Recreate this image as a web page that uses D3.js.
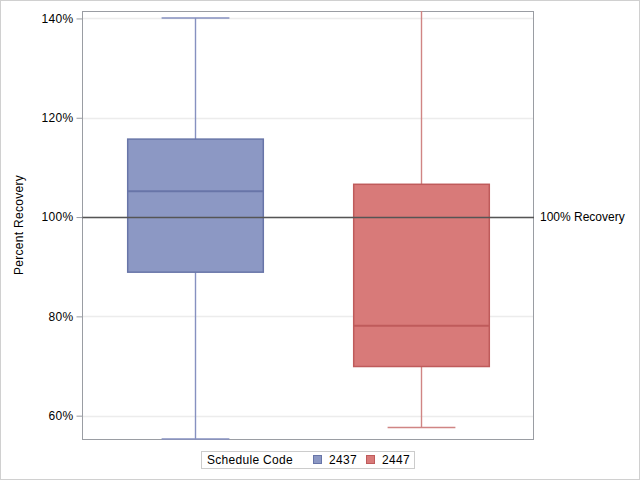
<!DOCTYPE html>
<html><head><meta charset="utf-8">
<script src="https://cdn.jsdelivr.net/npm/d3@7"></script>
<style>body{margin:0;background:#fff}svg{display:block;font-family:"Liberation Sans",Arial,sans-serif}</style>
</head><body>
<script>
const categories = ["2437", "2447"];
const q1Values = [88.9, 69.9];
const medianValues = [105.2, 78.1];
const q3Values = [115.7, 106.6];
const minValues = [55.3, 57.6];
const maxValues = [140.1, 146];
const yTicks = [60, 80, 100, 120, 140];
const fills = ["#8C98C4", "#D87A79"];
const strokes = ["#6875A8", "#BF5B5B"];
const whiskerColors = ["#8691C0", "#D08584"];
const refValue = 100;
const refLabel = "100% Recovery";
const legendTitle = "Schedule Code";

const W = 640, H = 480;
const m = {l: 82, r: 106, t: 11, b: 41};
const svg = d3.select("body").append("svg").attr("width", W).attr("height", H);
svg.append("rect").attr("x",0.5).attr("y",0.5).attr("width",W-1).attr("height",H-1).attr("fill","#fff").attr("stroke","#d0d0d0");

const x = d3.scaleBand().domain(categories).range([m.l, W - m.r]).padding(0);
const y = d3.scaleLinear().domain([55.3, 141.5]).range([H - m.b, m.t]);

svg.append("defs").append("clipPath").attr("id","clip").append("rect")
  .attr("x", m.l).attr("y", m.t).attr("width", W - m.l - m.r).attr("height", H - m.t - m.b + 2);

// grid
svg.append("g").selectAll("line").data(yTicks).join("line")
  .attr("x1", m.l).attr("x2", W - m.r).attr("y1", d => Math.round(y(d))+0.5).attr("y2", d => Math.round(y(d))+0.5)
  .attr("stroke", "#ececec").attr("stroke-width", 1.5);

// frame
svg.append("rect").attr("x",m.l+0.5).attr("y",m.t+0.5).attr("width",W-m.l-m.r-1).attr("height",H-m.t-m.b)
  .attr("fill","none").attr("stroke","#9a9da3");

const g = svg.append("g").attr("clip-path","url(#clip)");
const data = categories.map((c,i)=>({c,i,q1:q1Values[i],med:medianValues[i],q3:q3Values[i],min:minValues[i],max:maxValues[i]}));
const bw = x.bandwidth()*0.6;
const cw = bw*0.5;
data.forEach(d=>{
  const cx = Math.round(x(d.c) + x.bandwidth()/2) + 0.5;
  const col = strokes[d.i];
  const wc = whiskerColors[d.i];
  g.append("line").attr("x1",cx).attr("x2",cx).attr("y1",y(d.max)).attr("y2",y(d.q3)).attr("stroke",wc).attr("stroke-width",1.4);
  g.append("line").attr("x1",cx).attr("x2",cx).attr("y1",y(d.q1)).attr("y2",y(d.min)).attr("stroke",wc).attr("stroke-width",1.4);
  g.append("line").attr("x1",cx-cw/2).attr("x2",cx+cw/2).attr("y1",y(d.max)).attr("y2",y(d.max)).attr("stroke",wc).attr("stroke-width",1.5);
  g.append("line").attr("x1",cx-cw/2).attr("x2",cx+cw/2).attr("y1",y(d.min)).attr("y2",y(d.min)).attr("stroke",wc).attr("stroke-width",1.5);
  g.append("rect").attr("x",cx-bw/2).attr("y",y(d.q3)).attr("width",bw).attr("height",y(d.q1)-y(d.q3))
    .attr("fill",fills[d.i]).attr("stroke",col).attr("stroke-width",1.5);
  g.append("line").attr("x1",cx-bw/2).attr("x2",cx+bw/2).attr("y1",y(d.med)).attr("y2",y(d.med)).attr("stroke",col).attr("stroke-width",2);
});

// reference line
svg.append("line").attr("x1",m.l).attr("x2",W-m.r).attr("y1",Math.round(y(refValue))+0.5).attr("y2",Math.round(y(refValue))+0.5)
  .attr("stroke","#555").attr("stroke-width",1.5);
svg.append("text").attr("x",W-m.r+6).attr("y",y(refValue)+4).attr("font-size",12).attr("fill","#000").text(refLabel);

// y axis
const ya = svg.append("g").attr("transform",`translate(${m.l+0.5},0)`)
  .call(d3.axisLeft(y).tickValues(yTicks).tickSize(6).tickPadding(3).tickFormat(d=>d+"%"));
ya.select(".domain").remove();
ya.selectAll(".tick line").attr("stroke","#9a9da3");
ya.selectAll("text").attr("font-size",12).attr("fill","#000").attr("font-family","Liberation Sans, Arial, sans-serif").attr("letter-spacing","0.3px");

svg.append("text").attr("transform",`translate(23,${(m.t+H-m.b)/2}) rotate(-90)`).attr("text-anchor","middle")
  .attr("font-size",12).attr("fill","#000").attr("letter-spacing","0.3px").text("Percent Recovery");

// legend
const lg = svg.append("g");
lg.append("rect").attr("x",201.5).attr("y",451.5).attr("width",213).attr("height",17).attr("fill","#fff").attr("stroke","#ccc");
lg.append("text").attr("x",207).attr("y",464).attr("font-size",12).attr("fill","#000").attr("letter-spacing","0.3px").text(legendTitle);
const lx = [313, 366];
categories.forEach((c,i)=>{
  lg.append("rect").attr("x",lx[i]+0.5).attr("y",455.5).attr("width",8).attr("height",8).attr("fill",fills[i]).attr("stroke",strokes[i]);
  lg.append("text").attr("x",lx[i]+16).attr("y",464).attr("font-size",12).attr("fill","#000").attr("letter-spacing","0.3px").text(c);
});
</script>
</body></html>
